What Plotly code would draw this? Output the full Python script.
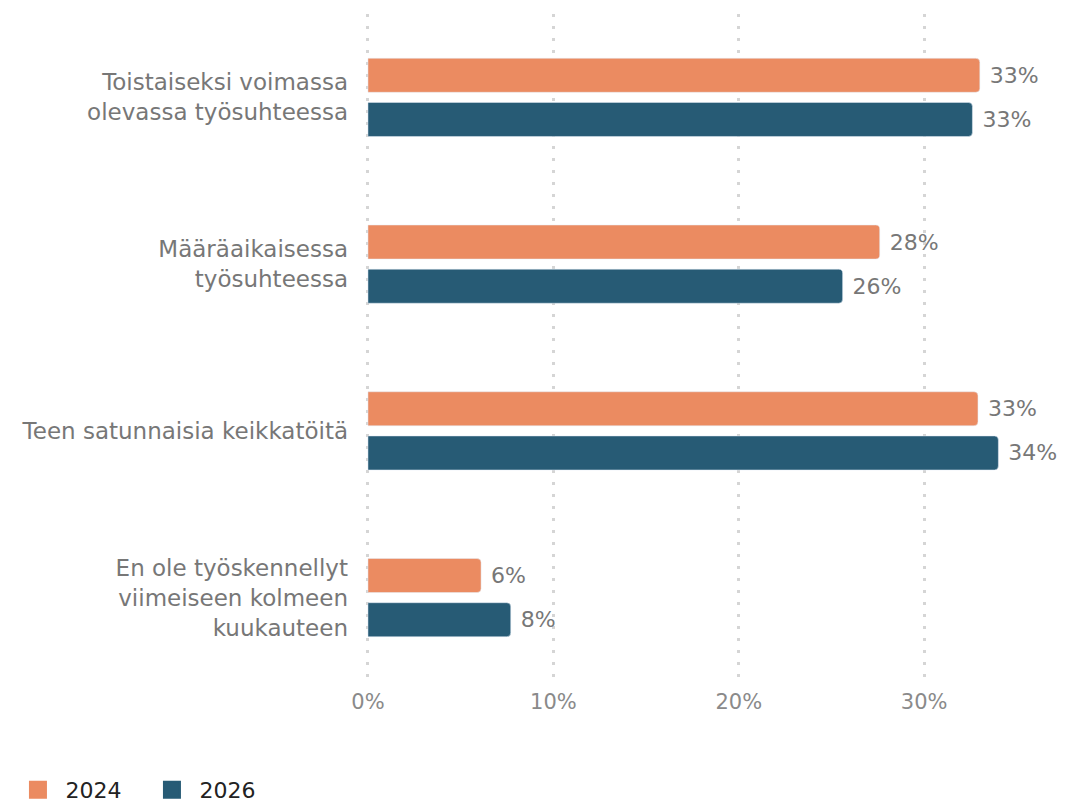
import plotly.graph_objects as go

categories = [
    "Toistaiseksi voimassa<br>olevassa työsuhteessa",
    "Määräaikaisessa<br>työsuhteessa",
    "Teen satunnaisia keikkatöitä",
    "En ole työskennellyt<br>viimeiseen kolmeen<br>kuukauteen",
]
values_2024 = [33.0, 27.6, 32.9, 6.1]
values_2026 = [32.6, 25.6, 34.0, 7.7]
series_names = ["2024", "2026"]
tick_vals = [0, 10, 20, 30]
tick_text = ["0%", "10%", "20%", "30%"]

colors = ["#EB8B61", "#275B75"]
font_family = "DejaVu Sans, Arial, sans-serif"

fig = go.Figure()
for name, vals, col in zip(series_names, [values_2024, values_2026], colors):
    fig.add_trace(go.Bar(
        y=categories, x=vals, name=name, orientation="h",
        marker=dict(color=col, cornerradius=4),
        text=[f" {v:.0f}%" for v in vals],
        textposition="outside", cliponaxis=False,
        textfont=dict(size=22, color="#777777", family=font_family),
        showlegend=False,
    ))
    fig.add_trace(go.Scatter(
        x=[None], y=[None], mode="markers", name=name,
        marker=dict(symbol="square", size=16, color=col,
                    line=dict(color=col, width=2)),
        showlegend=True, hoverinfo="skip",
    ))

fig.update_layout(
    width=1066, height=803,
    barmode="group", bargap=0.47, bargroupgap=0.23,
    plot_bgcolor="white", paper_bgcolor="white",
    margin=dict(l=357, r=20, t=5.5, b=129.5),
    font=dict(family=font_family),
    showlegend=True,
    legend=dict(orientation="h", xref="container", yref="container",
                x=0.0023, y=0.0, xanchor="left", yanchor="bottom",
                font=dict(size=22, color="#222222"),
                itemwidth=45, entrywidth=74, entrywidthmode="pixels",
                traceorder="normal"),
    xaxis=dict(range=[-0.16, 37], tickvals=tick_vals, ticktext=tick_text,
               showgrid=True, gridcolor="#D5D5D5", griddash="3px,9px", gridwidth=3,
               zeroline=False, showline=False,
               tickfont=dict(size=21, color="#8A8A8A"), ticklabelstandoff=6),
    yaxis=dict(autorange="reversed", showgrid=False, showline=False, zeroline=False,
               tickfont=dict(size=23, color="#777777"), ticklabelstandoff=16),
)
fig.write_html("out.html")
